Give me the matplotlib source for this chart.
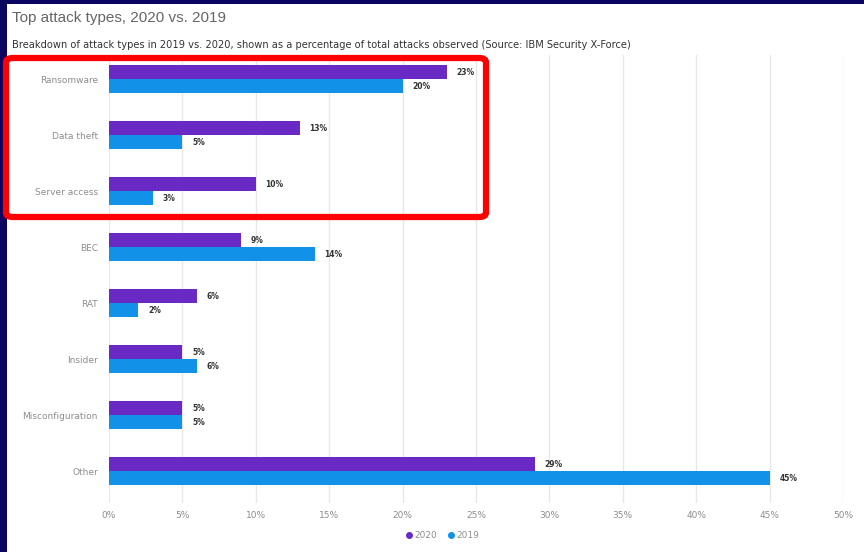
import matplotlib.pyplot as plt
import numpy as np
from matplotlib.lines import Line2D
from matplotlib.patches import Rectangle, FancyBboxPatch

# Datos
categories = ['Ransomware', 'Data theft', 'Server access', 'BEC', 'RAT',
              'Insider', 'Misconfiguration', 'Other']
values_2020 = [23, 13, 10, 9, 6, 5, 5, 29]
values_2019 = [20, 5, 3, 14, 2, 6, 5, 45]
xticks = [0, 5, 10, 15, 20, 25, 30, 35, 40, 45, 50]

c2020 = '#6929c4'
c2019 = '#1192e8'
navy = '#0b0560'

fig = plt.figure(figsize=(8.64, 5.52), dpi=100)
fig.patch.set_facecolor(navy)
# panel blanco
fig.patches.append(Rectangle((7 / 864, 0), 1, 1 - 4 / 552, transform=fig.transFigure,
                             facecolor='white', edgecolor='none', zorder=-1))

ax = fig.add_axes([109 / 864, 49 / 552, 734 / 864, 448 / 552])
ax.set_facecolor('none')

y = np.arange(len(categories))
h = 0.25
ax.barh(y - h / 2, values_2020, height=h, color=c2020, zorder=3)
ax.barh(y + h / 2, values_2019, height=h, color=c2019, zorder=3)

for yi, v in zip(y, values_2020):
    ax.annotate(f'{v}%', (v, yi - h / 2), xytext=(7, 0), textcoords='offset points',
                va='center', ha='left', fontsize=5.5, fontweight='bold', color='#333333')
for yi, v in zip(y, values_2019):
    ax.annotate(f'{v}%', (v, yi + h / 2), xytext=(7, 0), textcoords='offset points',
                va='center', ha='left', fontsize=5.5, fontweight='bold', color='#333333')

ax.set_xlim(0, 50)
ax.set_ylim(7.57, -0.43)
ax.set_xticks(xticks)
ax.set_xticklabels([f'{t}%' for t in xticks])
ax.set_yticks(y)
ax.set_yticklabels(categories)
ax.tick_params(axis='both', length=0, labelsize=6.5, labelcolor='#8d8d8d')
ax.tick_params(axis='x', pad=6)
ax.tick_params(axis='y', pad=8)
ax.grid(axis='x', color='#e8e8e8', linewidth=1, zorder=0)
for s in ax.spines.values():
    s.set_visible(False)

fig.text(12 / 864, 1 - 18 / 552, 'Top attack types, 2020 vs. 2019', fontsize=11,
         color='#666666', va='center', ha='left', family='Liberation Sans')
fig.text(12 / 864, 1 - 45 / 552,
         'Breakdown of attack types in 2019 vs. 2020, shown as a percentage of total attacks observed (Source: IBM Security X-Force)',
         fontsize=7.1, color='#333333', va='center', ha='left')

handles = [Line2D([], [], marker='o', linestyle='none', color=c2020, markersize=4),
           Line2D([], [], marker='o', linestyle='none', color=c2019, markersize=4)]
fig.legend(handles, ['2020', '2019'], loc='center', bbox_to_anchor=(442 / 864, 1 - 536 / 552),
           ncol=2, frameon=False, fontsize=6.5, labelcolor='#8d8d8d',
           handletextpad=0.1, columnspacing=1.0, handlelength=1.0)

# recuadro rojo
fig.patches.append(FancyBboxPatch((6 / 864, 1 - 217 / 552), 480 / 864, 159 / 552,
                                  boxstyle='round,pad=0,rounding_size=0.008',
                                  transform=fig.transFigure, facecolor='none',
                                  edgecolor='#ff0000', linewidth=4.5, zorder=5))

fig.savefig('out.png', dpi=100, facecolor=fig.get_facecolor())
